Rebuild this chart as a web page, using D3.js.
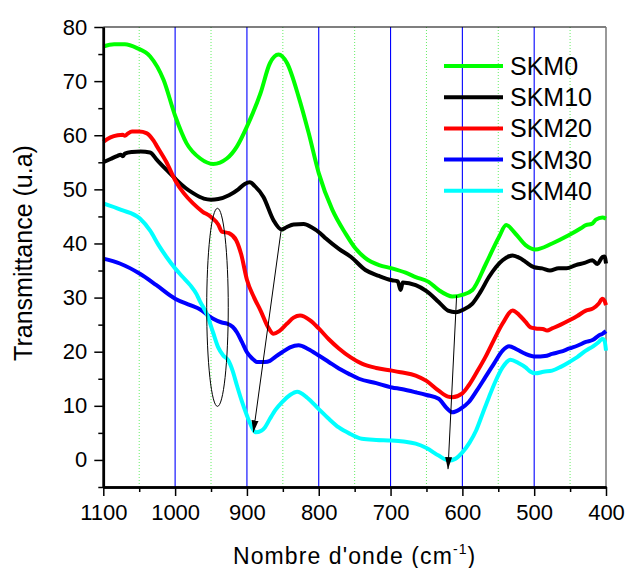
<!DOCTYPE html>
<html>
<head>
<meta charset="utf-8">
<script src="https://cdn.jsdelivr.net/npm/d3@7"></script>
<style>
  body { margin: 0; background: #fff; }
  text { font-family: "Liberation Sans", Arial, sans-serif; fill: #000; }
</style>
</head>
<body>
<div id="chart"></div>
<script>
// wavenumber (cm-1), transmittance
var skm0 = [[1100,76.4],[1085,76.8],[1070,76.8],[1053,76.1],[1035,74.6],[1016,70.2],[1000,63.6],[984,58.5],[965,55.7],[947,54.7],[928,55.7],[914,57.9],[900,61.6],[881,67.8],[868,73.3],[856,74.9],[844,73.3],[828,67.1],[814,60.4],[800,53],[781,46.2],[763,41.9],[749,39.1],[735,37.3],[716,36],[698,35.4],[679,34.6],[665,33.8],[647,32.9],[633,31.4],[614,30.2],[600,30.5],[586,31.4],[567,36.3],[549,41.2],[539,43.4],[526,41.8],[512,39.7],[498,38.9],[475,40],[452,41.5],[435,42.8],[428,43.4],[420,43.6],[414,44.4],[405,44.8],[400,44.6]];
var skm10 = [[1100,55],[1090,55.6],[1080,56.2],[1076,56.4],[1073,56.1],[1070,56.6],[1060,56.9],[1048,57],[1035,56.8],[1025,55.4],[1012,53.6],[1000,52],[985,50.2],[975,49.3],[960,48.3],[950,48.1],[940,48.2],[925,48.9],[912,50],[903,51],[896,51.3],[889,50.6],[877,48.6],[863,44.3],[852,42.6],[845,43],[835,43.5],[821,43.6],[810,43],[798,41.9],[790,40.9],[772,39],[755,37.5],[735,35.1],[716,34],[698,33.2],[690,33],[686,31.4],[683,32.8],[665,32.3],[650,31.2],[633,29.2],[620,27.6],[609,27.3],[598,27.8],[586,28.9],[575,31],[563,33.8],[544,36.9],[530,37.8],[520,37.3],[512,36.6],[500,35.6],[489,35.4],[478,35],[466,35.4],[455,35.4],[442,36],[430,36.4],[419,36.9],[412,36.2],[405,37.5],[402,37.6],[400,36.3]];
var skm20 = [[1100,58.8],[1090,59.6],[1080,60],[1073,60.1],[1070,59.9],[1066,60.3],[1060,60.7],[1050,60.7],[1040,60.4],[1030,59],[1025,57.9],[1012,55],[1000,51.7],[988,49.3],[975,47.4],[962,45.9],[950,44.9],[940,43.5],[935,42.2],[925,41.9],[915,40.6],[908,38],[900,33.3],[890,30],[881,27.6],[870,24.4],[863,23.3],[855,23.8],[844,25.2],[835,26.3],[826,26.7],[812,25.8],[800,24.3],[786,22.3],[772,20.6],[756,19],[740,17.8],[720,17],[698,16.5],[686,16.2],[665,15.6],[650,14.6],[633,12.8],[620,11.7],[614,11.6],[600,12.3],[591,13.8],[580,16.2],[568,19],[556,22.2],[544,25.2],[530,27.6],[521,26.8],[512,25.5],[505,24.5],[498,24.3],[488,24.2],[482,23.9],[475,24.3],[463,25],[451,25.8],[440,26.6],[428,27.6],[418,28],[410,28.9],[405,29.8],[402,29.4],[400,28.6]];
var skm30 = [[1100,37.2],[1077,36.3],[1049,34.4],[1026,32.3],[1000,29.8],[979,28.6],[965,27.8],[955,26.8],[947,26.1],[935,25.4],[928,25.2],[920,24.6],[914,23.6],[907,21.8],[900,19.9],[893,18.8],[886,18.1],[875,18.1],[868,18.3],[860,19.1],[851,19.9],[840,20.8],[828,21.2],[815,20.5],[800,19.3],[786,18.1],[772,16.9],[758,15.9],[744,15],[720,14.2],[698,13.4],[685,13.1],[665,12.5],[650,12],[633,11.3],[622,9.6],[614,8.8],[603,9.4],[591,10.7],[580,12.8],[568,15.3],[556,17.8],[544,20.2],[535,21],[524,20.4],[512,19.6],[498,19.1],[485,19.2],[475,19.6],[463,20],[451,20.6],[440,21.1],[428,21.8],[418,22.2],[410,23],[405,23.3],[400,23.8]];
var skm40 = [[1100,47.4],[1075,46.2],[1049,44.6],[1035,42.4],[1023,39.7],[1012,37.5],[1000,35.4],[990,33.9],[979,32.3],[970,30.6],[965,29.2],[956,27],[947,23.5],[940,20.8],[933,19.3],[926,18.4],[920,16.5],[914,13.8],[907,10.8],[900,8.2],[893,6],[888,5.1],[880,5.4],[875,6],[868,7.6],[860,9.3],[851,10.7],[840,12],[830,12.6],[816,11.5],[800,9.4],[786,7.6],[772,6],[756,4.8],[740,3.9],[720,3.7],[698,3.6],[682,3.4],[665,3],[650,2.2],[633,0.8],[619,-0.1],[610,0.2],[600,1.4],[590,3.2],[581,5.4],[572,8.5],[563,11.6],[554,14.5],[544,17.1],[533,18.5],[522,17.9],[512,17.1],[505,16.3],[498,16],[487,16.3],[475,16.5],[463,17.2],[451,18.1],[440,19],[428,20.2],[418,21],[410,21.8],[405,22.4],[402,22],[400,20.2]];

var seriesNames = ['SKM0', 'SKM10', 'SKM20', 'SKM30', 'SKM40'];
var seriesData = [skm0, skm10, skm20, skm30, skm40];
var seriesColors = ['#00ff00', '#000000', '#ff0000', '#0000ff', '#00ffff'];

var xMajor = [1100, 1000, 900, 800, 700, 600, 500, 400];
var xMinor = [1050, 950, 850, 750, 650, 550, 450];
var yMajor = [0, 10, 20, 30, 40, 50, 60, 70, 80];
var yMinor = [-5, 5, 15, 25, 35, 45, 55, 65, 75];

// annotations in data units: ellipse [cx, cy, rx, ry], arrows [from, to]
var ellipse = [941, 28.2, 15, 18.3];
var arrows = [[[852, 42.8], [891, 5.1]], [[608, 30.4], [620, -1.7]]];

var width = 625, height = 568;
var margin = { top: 27, right: 19, bottom: 81, left: 103.3 };
var w = width - margin.left - margin.right;
var h = height - margin.top - margin.bottom;

var svg = d3.select('#chart').append('svg')
        .attr('width', width)
        .attr('height', height);

svg.append('defs').append('marker')
        .attr('id', 'head')
        .attr('viewBox', '0 0 12 10')
        .attr('refX', 12).attr('refY', 5)
        .attr('markerWidth', 12).attr('markerHeight', 10)
        .attr('markerUnits', 'userSpaceOnUse')
        .attr('orient', 'auto')
        .append('path')
        .attr('d', 'M0,1.5 L12,5 L0,8.5 Z')
        .attr('fill', '#000');

var g = svg.append('g').attr('transform', 'translate(' + margin.left + ',' + margin.top + ')');

var x = d3.scaleLinear().domain([1100, 400]).range([0, w]);
var y = d3.scaleLinear().domain([-5, 80]).range([h, 0]);

// grid: blue solid at majors, green dotted at minors
g.selectAll('.gmaj').data(xMajor.slice(1, -1)).enter().append('line')
        .attr('x1', function (d) { return x(d); }).attr('x2', function (d) { return x(d); })
        .attr('y1', 0).attr('y2', h)
        .attr('stroke', '#0000ff').attr('stroke-width', 1.1);
g.selectAll('.gmin').data(xMinor).enter().append('line')
        .attr('x1', function (d) { return x(d); }).attr('x2', function (d) { return x(d); })
        .attr('y1', 0).attr('y2', h)
        .attr('stroke', '#66ee66').attr('stroke-width', 1)
        .attr('stroke-dasharray', '1,2');

// frame top / right
g.append('line').attr('x1', 0).attr('x2', w).attr('y1', 0).attr('y2', 0)
        .attr('stroke', '#000').attr('stroke-width', 1.2);
g.append('line').attr('x1', w).attr('x2', w).attr('y1', 0).attr('y2', h)
        .attr('stroke', '#777').attr('stroke-width', 1.5);

// curves
var line = d3.line()
        .x(function (d) { return x(d[0]); })
        .y(function (d) { return y(d[1]); })
        .curve(d3.curveMonotoneX);

seriesData.forEach(function (s, i) {
        g.append('path')
                .datum(s)
                .attr('fill', 'none')
                .attr('stroke', seriesColors[i])
                .attr('stroke-width', 4)
                .attr('stroke-linejoin', 'round')
                .attr('d', line);
});

// annotations
g.append('ellipse')
        .attr('cx', x(ellipse[0])).attr('cy', y(ellipse[1]))
        .attr('rx', Math.abs(x(ellipse[0] + ellipse[2]) - x(ellipse[0])))
        .attr('ry', Math.abs(y(ellipse[1] + ellipse[3]) - y(ellipse[1])))
        .attr('fill', 'none').attr('stroke', '#000').attr('stroke-width', 1);

arrows.forEach(function (a) {
        g.append('line')
                .attr('x1', x(a[0][0])).attr('y1', y(a[0][1]))
                .attr('x2', x(a[1][0])).attr('y2', y(a[1][1]))
                .attr('stroke', '#000').attr('stroke-width', 1)
                .attr('marker-end', 'url(#head)');
});

// axes
g.append('g')
        .attr('transform', 'translate(0,' + h + ')')
        .call(d3.axisBottom(x).tickValues(xMajor).tickSize(9).tickSizeOuter(0).tickPadding(8).tickFormat(d3.format('d')));
g.append('g')
        .attr('transform', 'translate(0,' + h + ')')
        .call(d3.axisBottom(x).tickValues(xMinor).tickSize(5).tickSizeOuter(0).tickFormat(''));
g.append('g')
        .call(d3.axisLeft(y).tickValues(yMajor).tickSize(9).tickSizeOuter(0).tickPadding(7));
g.append('g')
        .call(d3.axisLeft(y).tickValues(yMinor).tickSize(5).tickSizeOuter(0).tickFormat(''));

g.selectAll('.domain').attr('stroke', '#000').attr('stroke-width', 2.5);
g.selectAll('.tick line').attr('stroke', '#000').attr('stroke-width', 1.5);
g.selectAll('.tick text').attr('font-size', 22).attr('font-family', '"Liberation Sans", Arial, sans-serif').attr('fill', '#000');

// axis titles
svg.append('text')
        .attr('transform', 'translate(32,253) rotate(-90)')
        .attr('text-anchor', 'middle')
        .attr('font-size', 25)
        .text('Transmittance (u.a)');

var xt = svg.append('text')
        .attr('x', margin.left + w / 2)
        .attr('y', 564)
        .attr('text-anchor', 'middle')
        .attr('font-size', 23)
        .attr('letter-spacing', 1.1);
xt.append('tspan').text("Nombre d'onde (cm");
xt.append('tspan').attr('font-size', 14).attr('dy', -10).text('-1');
xt.append('tspan').attr('dy', 10).text(')');

// legend
var legend = svg.append('g');
seriesNames.forEach(function (name, i) {
        var ly = 66 + i * 31.2;
        legend.append('line')
                .attr('x1', 444).attr('x2', 503)
                .attr('y1', ly).attr('y2', ly)
                .attr('stroke', seriesColors[i]).attr('stroke-width', 4);
        legend.append('text')
                .attr('x', 510).attr('y', ly).attr('dy', '0.36em')
                .attr('font-size', 25)
                .text(name);
});
</script>
</body>
</html>
